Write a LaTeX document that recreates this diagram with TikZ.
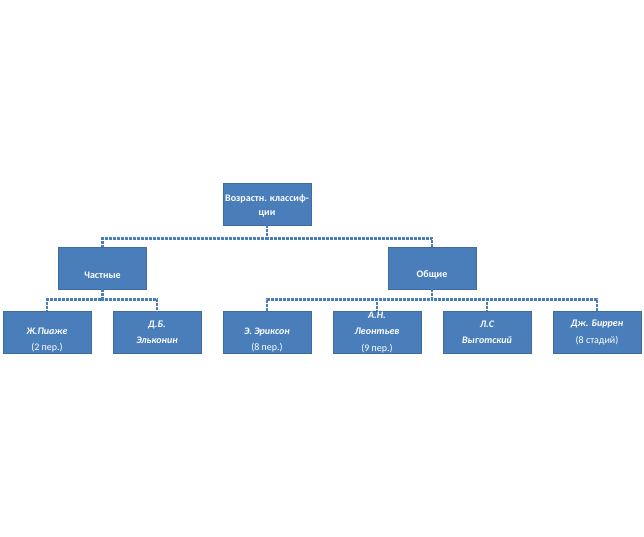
\documentclass[tikz,border=0pt]{standalone}
\usepackage{fontspec}
\setmainfont{Carlito}
\definecolor{boxblue}{HTML}{4A7EBB}
\definecolor{lineblue}{HTML}{4A7EBB}
\tikzset{
  x=1pt,y=-1pt,
  box/.style={draw=boxblue!85!black,line width=0.6pt,fill=boxblue,minimum width=88pt,minimum height=42pt,inner sep=0pt},
  lbl/.style={text=white,align=center,font=\fontsize{10}{16.5}\selectfont\bfseries},
  conn/.style={draw=lineblue,line width=2.6pt,dash pattern=on 3pt off 1pt},
}
\begin{document}
\begin{tikzpicture}
\useasboundingbox (0,0) rectangle (644,537);
% boxes
\node[box] (root) at (267,204) {};
\node[box] (ch) at (102.5,268) {};
\node[box] (ob) at (432,268) {};
\node[box] (l1) at (47,332.5) {};
\node[box] (l2) at (157,332.5) {};
\node[box] (l3) at (267,332.5) {};
\node[box] (l4) at (377,332.5) {};
\node[box] (l5) at (487,332.5) {};
\node[box] (l6) at (597,332.5) {};
% texts
\node[lbl,font=\fontsize{10}{14}\selectfont\bfseries] (troot) at ([yshift=-2pt]root.center) {Возрастн. классиф-\\ции};
\node[lbl] (tch) at ([yshift=-7pt]ch.center) {Частные};
\node[lbl] (tob) at ([yshift=-7pt]ob.center) {Общие};
\node[lbl] (t1) at ([yshift=-7.5pt]l1.center) {\itshape Ж.Пиаже\\\mdseries\upshape(2 пер.)};
\node[lbl] (t2) at (l2.center) {\itshape Д.Б.\\\itshape Эльконин};
\node[lbl] (t3) at ([yshift=-7.5pt]l3.center) {\itshape Э. Эриксон\\\mdseries\upshape(8 пер.)};
\node[lbl] (t4) at (l4.center) {\itshape А.Н.\\\itshape Леонтьев\\\mdseries\upshape(9 пер.)};
\node[lbl] (t5) at (l5.center) {\itshape Л.С\\\itshape Выготский};
\node[lbl] (t6) at (l6.center) {\itshape Дж. Биррен\\\mdseries\upshape(8 стадий)};
% connectors
\draw[conn] (root.south) -- ++(0,13) -| (ch.north);
\draw[conn] (root.south) -- ++(0,13) -| (ob.north);
\draw[conn] (ch.south) -- ++(0,10) -| (l1.north);
\draw[conn] (ch.south) -- ++(0,10) -| (l2.north);
\draw[conn] (ob.south) -- ++(0,10) -| (l3.north);
\draw[conn] (ob.south) -- ++(0,10) -| (l4.north);
\draw[conn] (ob.south) -- ++(0,10) -| (l5.north);
\draw[conn] (ob.south) -- ++(0,10) -| (l6.north);
\end{tikzpicture}
\end{document}
